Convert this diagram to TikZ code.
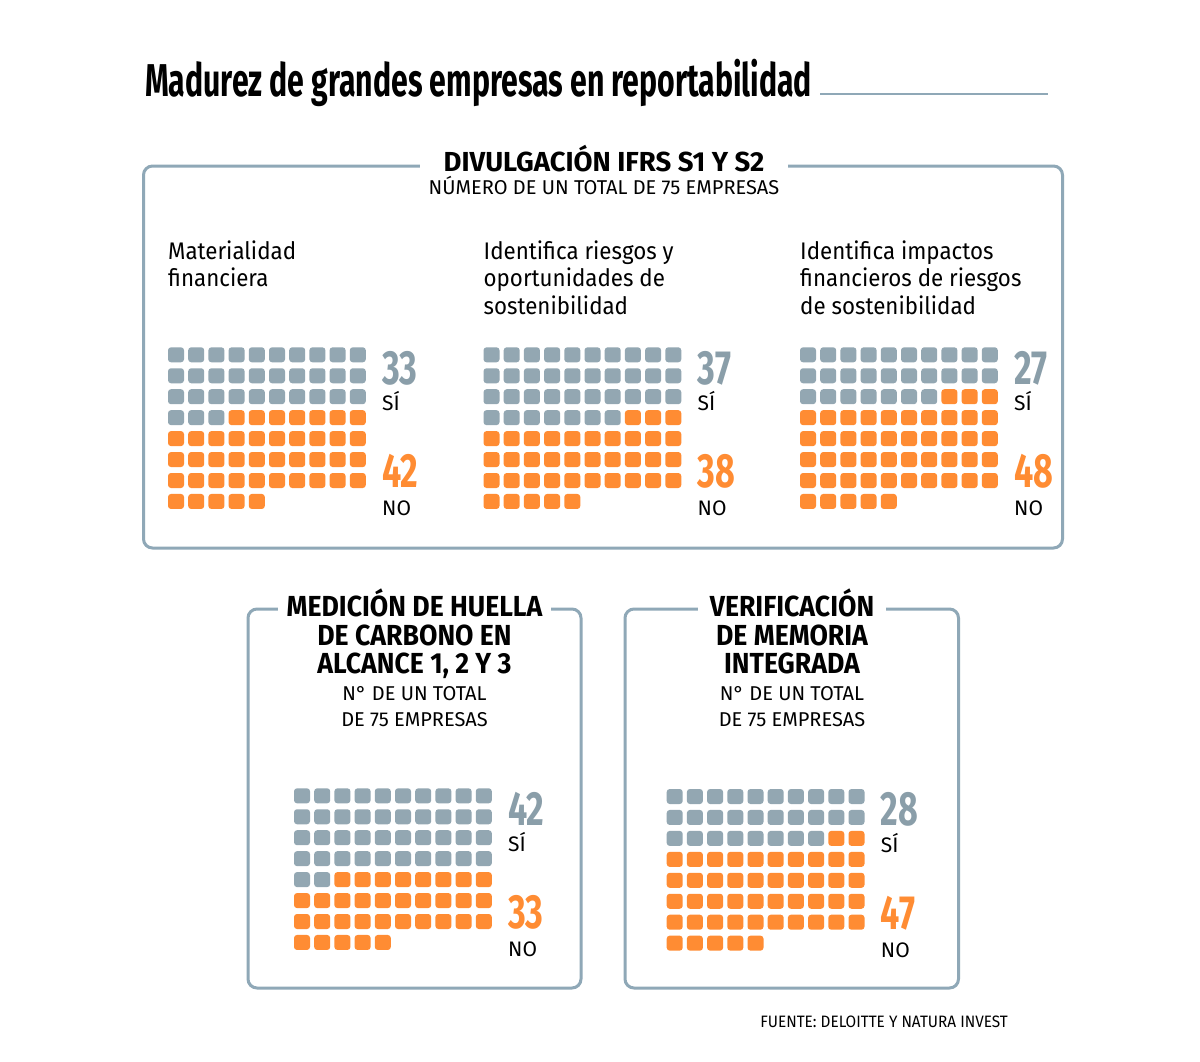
\documentclass[tikz,border=0pt]{standalone}
\usepackage{fontspec}
\setmainfont{Fira Sans}
\newfontfamily\titlefont[FakeStretch=0.657]{Fira Sans Bold}
\newfontfamily\condfont[FakeStretch=0.71]{Fira Sans Bold}
\newfontfamily\headfont[FakeStretch=0.92]{Fira Sans Bold}
\newfontfamily\topheadfont{Fira Sans Bold}
\newfontfamily\labelfont[FakeStretch=0.93]{Fira Sans}

\definecolor{sigray}{HTML}{93A7B2}
\definecolor{numgray}{HTML}{8A9EA9}
\definecolor{noorange}{HTML}{FF8C33}
\definecolor{frame}{HTML}{8FA8B7}

\tikzset{
  sq/.style={rounded corners=3pt},
  panel/.style={draw=frame, line width=3pt, rounded corners=9pt},
  numtxt/.style={font=\condfont\fontsize{48}{48}\selectfont, inner sep=0pt, anchor=base west},
  yesno/.style={font=\fontsize{21}{21}\selectfont, inner sep=0pt, anchor=base west},
  collabel/.style={font=\labelfont\fontsize{24}{27.4}\selectfont, inner sep=0pt, anchor=base west, align=left},
  heading/.style={font=\topheadfont\fontsize{27.5}{27.5}\selectfont, fill=white, inner xsep=24pt, inner ysep=2pt, anchor=base},
  heading2/.style={font=\headfont\fontsize{29}{29}\selectfont, inner sep=0pt, anchor=base},
  subhead/.style={font=\fontsize{20}{20}\selectfont, inner sep=0pt, anchor=base},
}

% waffle of 75 squares: name, x, y, yes, no
\newcommand{\waffle}[5]{%
  \foreach \k in {0,...,74}{%
    \pgfmathtruncatemacro{\wcol}{mod(\k,10)}%
    \pgfmathtruncatemacro{\wrow}{floor(\k/10)}%
    \ifnum\k<#4\relax \def\sqcolor{sigray}\else\def\sqcolor{noorange}\fi
    \fill[sq, \sqcolor] ({#2+\wcol*20.2},{#3+\wrow*20.95}) rectangle ++(16,15);
  }
  \node[numtxt, numgray] (#1-si) at ({#2+214},{#3+36.7}) {#4};
  \node[yesno] (#1-silab) at ({#2+214},{#3+63}) {SÍ};
  \node[numtxt, noorange] (#1-no) at ({#2+214},{#3+140.3}) {#5};
  \node[yesno] (#1-nolab) at ({#2+214},{#3+168}) {NO};
}

\begin{document}
\begin{tikzpicture}[x=1pt,y=-1pt]
\fill[white] (0,0) rectangle (1200,1061);
\useasboundingbox (0,0) rectangle (1200,1061);

\node[anchor=base west, inner sep=0pt, font=\titlefont\fontsize{46}{46}\selectfont] (titulo) at (145,96) {Madurez de grandes empresas en reportabilidad};
\draw[frame, line width=1.5pt] (820,94) -- (1048,94);

%%%%%%%%%%%%%%%%%%%%%%%%%%%%%%%%%%%%%%%% top panel
\draw[panel] (143.5,166) rectangle (1062.5,548);
\node[heading] (ifrs) at (604,171.7) {DIVULGACIÓN IFRS S1 Y S2};
\node[subhead] (ifrs-sub) at (604,194) {NÚMERO DE UN TOTAL DE 75 EMPRESAS};

% base of a multi-line node = its last line
\node[collabel] (mat) at (168,286.7) {Materialidad\\financiera};
\node[collabel] (ries) at (483.5,314.1) {Identifica riesgos y\\oportunidades de\\sostenibilidad};
\node[collabel] (imp) at (800,314.1) {Identifica impactos\\financieros de riesgos\\de sostenibilidad};

\waffle{mat}{168}{347.3}{33}{42}
\waffle{ries}{483.5}{347.3}{37}{38}
\waffle{imp}{800}{347.3}{27}{48}

%%%%%%%%%%%%%%%%%%%%%%%%%%%%%%%%%%%%%%%% bottom left
\draw[panel] (248,609) rectangle (581,988);
\node[heading2, fill=white, inner xsep=9pt, inner ysep=2pt] (huella) at (414.5,616.7) {MEDICIÓN DE HUELLA};
\node[heading2] (huella2) at (414.5,645) {DE CARBONO EN};
\node[heading2] (huella3) at (414.5,673) {ALCANCE 1, 2 Y 3};
\node[subhead] (huella-sub) at (414.5,700.5) {N° DE UN TOTAL};
\node[subhead] (huella-sub2) at (414.5,726.7) {DE 75 EMPRESAS};
\waffle{huella}{294}{788.3}{42}{33}

%%%%%%%%%%%%%%%%%%%%%%%%%%%%%%%%%%%%%%%% bottom right
\draw[panel] (625,609) rectangle (958.5,988);
\node[heading2, fill=white, inner xsep=12pt, inner ysep=2pt] (memoria) at (792,616.7) {VERIFICACIÓN};
\node[heading2] (memoria2) at (792,645) {DE MEMORIA};
\node[heading2] (memoria3) at (792,673) {INTEGRADA};
\node[subhead] (memoria-sub) at (792,700.5) {N° DE UN TOTAL};
\node[subhead] (memoria-sub2) at (792,726.7) {DE 75 EMPRESAS};
\waffle{memoria}{666.7}{789}{28}{47}

\node[anchor=base east, inner sep=0pt, font=\labelfont\fontsize{16.5}{16.5}\selectfont] (fuente) at (1008,1027.7) {FUENTE: DELOITTE Y NATURA INVEST};
\end{tikzpicture}
\end{document}
